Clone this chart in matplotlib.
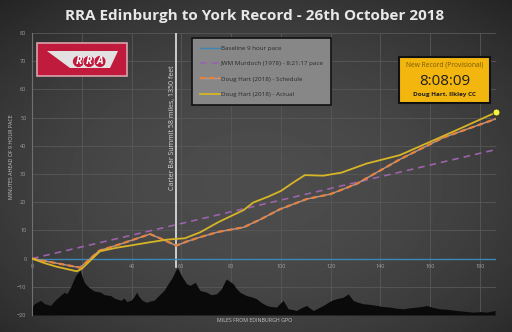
import numpy as np
import matplotlib.pyplot as plt
from matplotlib.patches import Rectangle, Polygon, Circle

plt.rcParams['font.family'] = ['Open Sans', 'DejaVu Sans']

# minutes ahead of 9 hour pace against miles from Edinburgh GPO
base_miles = [0, 186.5]
base_mins = [0, 0]

murdoch_miles = [0, 186.5]
murdoch_mins = [0, 38.7]

sched_miles = [0, 19.3, 27, 35, 47.4, 52, 58, 62, 67.5, 75, 85, 92, 99.6,
               110.3, 120, 130.4, 138.4, 147.8, 165.2, 186.5]
sched_mins = [0, -3.2, 2.8, 5.0, 8.7, 7.0, 4.6, 6.0, 7.6, 9.5, 11.1, 14.0, 17.5,
              21.1, 22.9, 26.5, 30.5, 35.2, 42.9, 49.6]

actual_miles = [0, 5, 10, 18, 20, 27.3, 33.7, 47.4, 54, 58, 61.4, 67.5, 75, 85,
                88.9, 95, 100, 105, 109.6, 117, 124.4, 134.4, 147.8, 161.2,
                173.2, 186.5]
actual_mins = [0, -1.6, -2.9, -4.5, -3.6, 2.6, 3.8, 5.8, 6.7, 7.0, 7.2, 9.3, 13.0,
               17.2, 19.9, 22.0, 24.0, 27.0, 29.6, 29.4, 30.5, 33.7, 36.7, 41.9,
               46.6, 51.9]

carter_mile = 58

# elevation profile, drawn in chart units below the axis
prof_miles = [0, 1, 2, 3.5, 5, 7.5, 9, 10, 11.5, 13, 14, 15.5, 16.5, 17.5, 18.5,
              19.3, 20, 21, 22, 23.6, 25, 27.6, 29, 31.6, 33, 35.7, 37, 38, 39.7,
              41, 42, 43, 44.3, 46, 47.5, 49, 51, 53, 55, 56.4, 57.5, 58.4, 59.4,
              60.4, 62.1, 63.5, 65.5, 67.5, 70.1, 72, 74.1, 76.1, 77, 78.1, 79,
              80.8, 82, 83.5, 86.1, 88, 90.1, 92, 94.2, 96, 98.2, 99.5, 100.9,
              102, 102.9, 104.5, 106.2, 108, 110.3, 111.5, 113, 115, 117, 119,
              120.4, 122.4, 125, 127, 129, 131, 133, 135.5, 138.4, 141, 143.8,
              146.5, 149.1, 152, 154.5, 156.5, 158.5, 161, 163.9, 167, 170.6,
              174, 177.3, 180, 182.6, 186]
prof_vals = [-17, -16, -15.5, -14.8, -16, -16.6, -15, -14.2, -13, -11.9, -12.5,
             -10.1, -8, -6, -5, -4.2, -6, -8.4, -9.5, -10.7, -11.5, -11.9, -12.8,
             -13.1, -14, -14.8, -14, -15.2, -14.8, -13.5, -11.9, -13.5, -14.8,
             -15.5, -15, -14.8, -13, -11.3, -8.5, -6.6, -4.5, -3.1, -5, -6.6,
             -8.9, -9.5, -8.4, -11.3, -11.9, -12.8, -12.5, -10.7, -9, -7.2, -7.8,
             -8.9, -10.5, -11.9, -13.1, -13.5, -14.2, -15.5, -16.6, -17, -17.2,
             -16, -14.8, -16.5, -17.8, -18, -18.4, -17.5, -16.6, -17.5, -18.4,
             -17.5, -16.6, -15.5, -14.8, -14.2, -13.7, -12.5, -14.8, -15.5, -16,
             -16.2, -16.6, -17, -17.2, -17.6, -17.8, -17.4, -17.2, -17, -16.6,
             -17.3, -17.8, -18, -18.4, -18.7, -19, -18.8, -19, -18.4]

x_ticks = [0, 20, 40, 60, 80, 100, 120, 140, 160, 180]
x_labels = ['0', '', '40', '60', '80', '100', '120', '140', '160', '180']
y_ticks = [-20, -10, 0, 10, 20, 30, 40, 50, 60, 70, 80]

fig = plt.figure(figsize=(5.12, 3.32), dpi=100)

# dark vignette background
bg = fig.add_axes([0, 0, 1, 1], zorder=0)
yy, xx = np.mgrid[0:1:200j, 0:1:300j]
r2 = ((xx - 0.5) / 0.62) ** 2 + ((yy - 0.55) / 0.62) ** 2
shade = np.clip(0.3 - 0.11 * r2, 0.13, 0.31)
bg.imshow(shade, cmap='gray', vmin=0, vmax=1, extent=[0, 1, 0, 1], aspect='auto')
bg.axis('off')

ax = fig.add_axes([32 / 512, 1 - 315 / 332, 464 / 512, 282 / 332], zorder=1)
ax.patch.set_alpha(0)
ax.set_xlim(0, 186.4)
ax.set_ylim(-20, 80)
ax.set_axisbelow(True)
ax.set_xticks(x_ticks)
ax.set_xticklabels(x_labels)
ax.set_yticks(y_ticks)
ax.grid(color='#585858', lw=0.6)
for s in ['top', 'right', 'bottom']:
    ax.spines[s].set_visible(False)
ax.spines['left'].set_color('#707070')
ax.spines['left'].set_linewidth(0.8)
ax.spines['bottom'].set_position(('data', 0))
ax.tick_params(length=0, labelsize=4, labelcolor='#a0a0a0')
ax.tick_params(axis='x', pad=4)
ax.tick_params(axis='y', pad=4)

ax.fill_between(prof_miles, -20, prof_vals, color='#0a0a0a', lw=0, zorder=2)

ax.plot([carter_mile, carter_mile], [-3, 80], color='#e4e4e4', lw=1.2, zorder=2.5)
ax.text(carter_mile - 1.7, 46.6, 'Carter Bar Summit 58 miles, 1350 feet', rotation=90,
        ha='center', va='center', color='#d8d8d8', fontsize=5)

l_base, = ax.plot(base_miles, base_mins, color='#3c88b4', lw=1.0, zorder=3)
l_mur, = ax.plot(murdoch_miles, murdoch_mins, color='#9b63aa', lw=1.2,
                 dashes=(4, 3), zorder=3)
l_s1, = ax.plot(sched_miles, sched_mins, color='#b09aa0', lw=1.0, zorder=3)
l_s2, = ax.plot(sched_miles, sched_mins, color='#e8823a', lw=1.6, dashes=(2.5, 1.6),
                zorder=3.1)
l_act, = ax.plot(actual_miles, actual_mins, color='#d6b526', lw=1.3, zorder=3.2)
ax.plot(actual_miles[-1], actual_mins[-1], 'o', ms=5, mfc='#f4f43a', mec='#333333',
        mew=0.6, clip_on=False, zorder=4)

leg = ax.legend([l_base, l_mur, (l_s1, l_s2), l_act],
                ['Baseline 9 hour pace', 'JWM Murdoch (1978) - 8:21:17 pace',
                 'Doug Hart (2018) - Schedule', 'Doug Hart (2018) - Actual'],
                loc='upper left', bbox_to_anchor=(192 / 512, 1 - 38 / 332),
                bbox_transform=fig.transFigure, fontsize=4.5, labelcolor='#2a2a2a',
                facecolor='#878787', edgecolor='#111111', framealpha=1,
                fancybox=False, handlelength=3.2, labelspacing=1.6,
                borderpad=1.2, handletextpad=0.2, borderaxespad=0)
leg.get_frame().set_linewidth(1.2)

fig.text(255 / 512, 1 - 16 / 332, 'RRA Edinburgh to York Record - 26th October 2018',
         ha='center', va='center', fontsize=11, fontweight='bold', color='#e8e8e8')
fig.text(12 / 512, 1 - 157 / 332, 'MINUTES AHEAD OF 9 HOUR PACE', rotation=90,
         ha='center', va='center', fontsize=3.8, color='#c8c8c8')
fig.text(255 / 512, 1 - 320 / 332, 'MILES FROM EDINBURGH GPO',
         ha='center', va='center', fontsize=3.8, color='#c8c8c8')

# logo and record box in pixel coordinates
ov = fig.add_axes([0, 0, 1, 1], zorder=5)
ov.set_xlim(0, 512)
ov.set_ylim(332, 0)
ov.axis('off')
ov.patch.set_alpha(0)

ov.add_patch(Rectangle((37, 43), 90, 33, fc='#c01a3c', ec='#d8a4ac', lw=1.2))
ov.add_patch(Polygon([(47, 51), (118, 51), (110, 68), (70, 68)], fc='#e2e2e2', ec='none'))
for cx, ch in zip([78.5, 89, 100], 'RRA'):
    ov.add_patch(Circle((cx, 61.5), 6, fc='#c01a3c', ec='#f0f0f0', lw=0.5))
    ov.text(cx, 61.8, ch, ha='center', va='center', fontsize=7.5,
            fontweight='bold', fontstyle='italic', color='white')

ov.add_patch(Rectangle((399, 57), 91, 46, fc='#f3b60f', ec='#111111', lw=1.5))
ov.text(444.5, 65.5, 'New Record (Provisional)', ha='center', va='center',
        fontsize=4.8, color='#7a5a00')
ov.text(444.5, 81.5, '8:08:09', ha='center', va='center', fontsize=11, color='#1e1e1e')
ov.text(444.5, 94.5, 'Doug Hart, Ilkley CC', ha='center', va='center', fontsize=4.6,
        fontweight='bold', color='#1e1e1e')

fig.savefig('out.png', dpi=100)
